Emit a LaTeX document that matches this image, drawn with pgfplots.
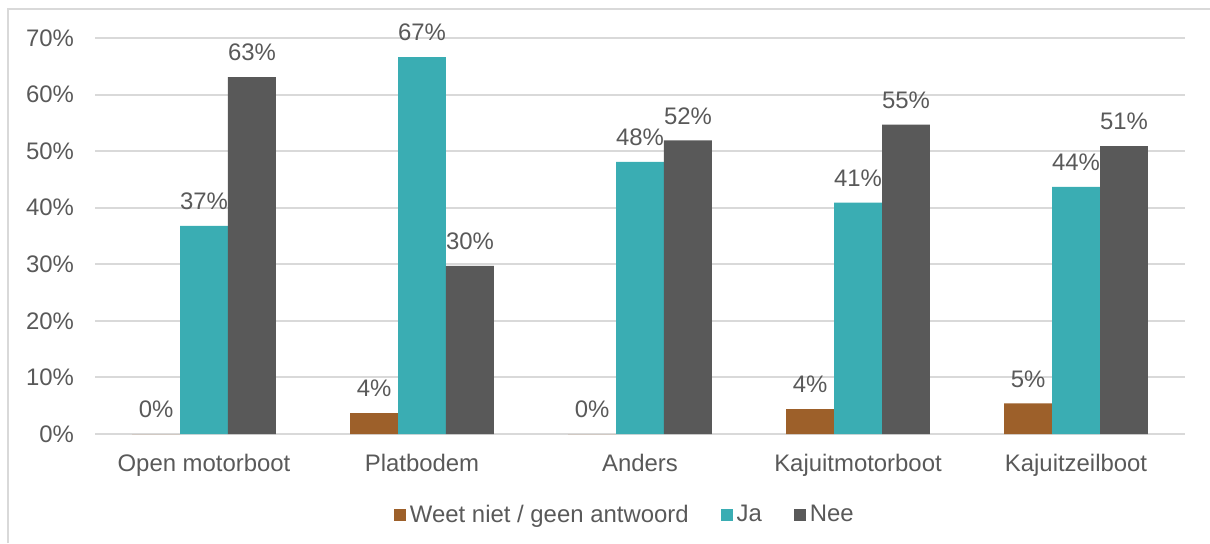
\documentclass[border=0pt]{standalone}
\usepackage{fontspec}
\setmainfont{Liberation Sans}
\usepackage{pgfplots}
\pgfplotsset{compat=1.18}
\definecolor{cbrown}{RGB}{157,96,42}
\definecolor{cteal}{RGB}{58,173,179}
\definecolor{cdark}{RGB}{89,89,89}
\definecolor{ctext}{RGB}{89,89,89}
\definecolor{cgrid}{RGB}{217,217,217}
\begin{document}
\begin{tikzpicture}[x=1bp,y=1bp]
\path[use as bounding box] (0,0) rectangle (605,271.5);
\draw[cgrid,line width=1bp] (4,0) -- (4,266.8) -- (605,266.8);
\begin{axis}[
  at={(47.5bp,54.5bp)}, anchor=south west,
  scale only axis, width=545bp, height=198bp,
  ybar=0pt, bar width=0.22,
  xmin=-0.5, xmax=4.5, ymin=0, ymax=70,
  xtick=data,
  xticklabels={Open motorboot,Platbodem,Anders,Kajuitmotorboot,Kajuitzeilboot},
  ytick={0,10,20,30,40,50,60,70},
  yticklabel={\pgfmathprintnumber{\tick}\%},
  /pgf/number format/assume math mode=true,
  ymajorgrids, grid style={cgrid,line width=1bp},
  axis x line*=bottom, axis y line*=left,
  x axis line style={cgrid,line width=1bp},
  y axis line style={draw=none},
  major tick length=0pt,
  tick label style={font=\fontsize{12}{14}\selectfont, text=ctext},
  yticklabel style={anchor=east, xshift=-7bp},
  xticklabel style={yshift=-6.5bp},
  every axis plot/.append style={draw=none},
  nodes near coords={\pgfmathprintnumber[fixed,precision=0]{\pgfplotspointmeta}\%},
  nodes near coords style={font=\fontsize{12}{14}\selectfont, text=ctext, yshift=4.5bp, /pgf/number format/assume math mode=true},
  legend columns=3,
  legend style={at={(0.487,-0.205)}, anchor=center, draw=none, fill=none,
    font=\fontsize{12}{14}\selectfont, text=ctext,
    /tikz/every even column/.append style={column sep=14bp}},
  legend image code/.code={\fill[#1] (0bp,-3bp) rectangle (6bp,3bp);},
]
\addplot[fill=cbrown] coordinates {(0,0) (1,3.7) (2,0) (3,4.4) (4,5.4)};
\addplot[fill=cteal] coordinates {(0,36.8) (1,66.6) (2,48.1) (3,40.9) (4,43.7)};
\addplot[fill=cdark] coordinates {(0,63.1) (1,29.7) (2,51.9) (3,54.7) (4,50.9)};
\legend{Weet niet / geen antwoord, Ja, Nee}
\end{axis}
\end{tikzpicture}
\end{document}
